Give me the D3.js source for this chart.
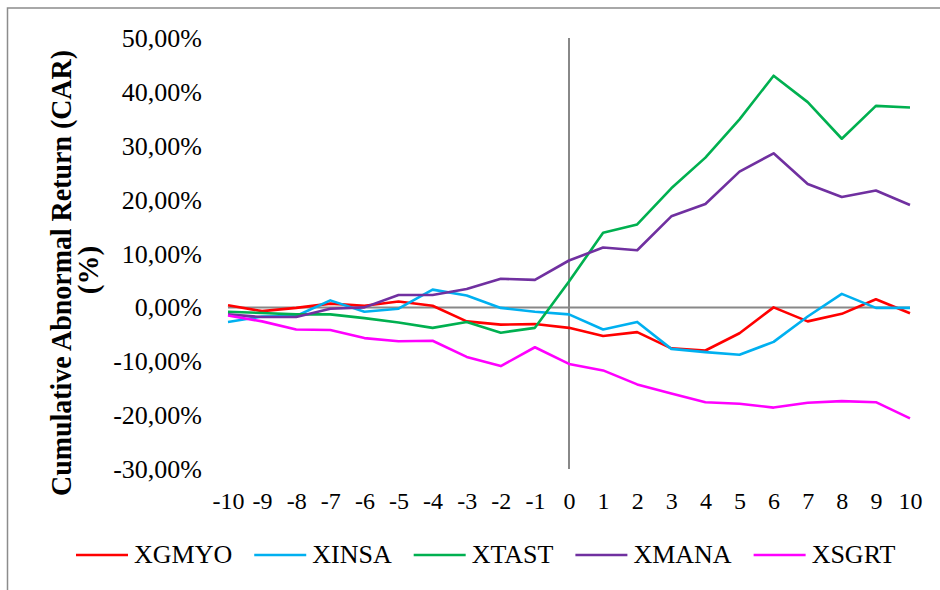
<!DOCTYPE html>
<html>
<head>
<meta charset="utf-8">
<script src="https://cdn.jsdelivr.net/npm/d3@7"></script>
<style>
  body { margin: 0; background: #fff; }
  svg text { font-family: "Liberation Serif", "Times New Roman", serif; }
</style>
</head>
<body>
<div id="chart"></div>
<script>
// event window days and CAR values (%)
const days = [-10, -9, -8, -7, -6, -5, -4, -3, -2, -1, 0, 1, 2, 3, 4, 5, 6, 7, 8, 9, 10];
const yTicks = [-30, -20, -10, 0, 10, 20, 30, 40, 50];
const seriesNames = ["XGMYO", "XINSA", "XTAST", "XMANA", "XSGRT"];
const seriesColors = ["#ff0000", "#00b0f0", "#00b050", "#7030a0", "#ff00ff"];

const xgmyo = [0.4, -0.7, -0.1, 0.7, 0.3, 1.1, 0.3, -2.6, -3.2, -3.1, -3.8, -5.3, -4.6, -7.6, -8.0, -4.8, 0.0, -2.6, -1.2, 1.5, -1.1];
const xinsa = [-2.7, -1.7, -1.6, 1.3, -0.8, -0.25, 3.3, 2.2, -0.1, -0.8, -1.3, -4.1, -2.7, -7.7, -8.3, -8.8, -6.4, -1.7, 2.5, -0.1, -0.1];
const xtast = [-0.8, -1.05, -1.3, -1.3, -2.0, -2.8, -3.8, -2.7, -4.7, -3.8, 4.8, 13.85, 15.4, 22.1, 27.8, 34.9, 43.0, 38.1, 31.3, 37.4, 37.1];
const xmana = [-1.3, -1.8, -1.8, -0.25, 0.0, 2.3, 2.3, 3.4, 5.3, 5.1, 8.7, 11.1, 10.6, 16.9, 19.2, 25.2, 28.6, 22.9, 20.5, 21.7, 19.0];
const xsgrt = [-1.5, -2.6, -4.1, -4.2, -5.7, -6.3, -6.2, -9.2, -10.9, -7.4, -10.5, -11.7, -14.3, -16.0, -17.6, -17.9, -18.6, -17.7, -17.4, -17.6, -20.6];

const seriesValues = [xgmyo, xinsa, xtast, xmana, xsgrt];

const width = 940, height = 590;
const plot = {left: 228, right: 910, top: 38, bottom: 469};
const serif = "'Liberation Serif', 'Times New Roman', serif";

const svg = d3.select("#chart").append("svg")
  .attr("width", width)
  .attr("height", height)
  .style("display", "block");

svg.append("rect")
  .attr("width", width).attr("height", height)
  .attr("fill", "#fff");

// outer chart border (right/bottom edges run off the picture)
svg.append("rect")
  .attr("x", 7.5).attr("y", 8)
  .attr("width", width + 10).attr("height", height + 10)
  .attr("fill", "none")
  .attr("stroke", "#8c8c8c")
  .attr("stroke-width", 1.5);

const x = d3.scaleLinear().domain([-10, 10]).range([plot.left, plot.right]);
const y = d3.scaleLinear().domain([-30, 50]).range([plot.bottom, plot.top]);

// turkish style number format: 50,00% with a plain hyphen for minus
const locale = d3.formatLocale({decimal: ",", thousands: ".", grouping: [3], currency: ["", ""], minus: "-"});
const fmt = locale.format(".2f");

// y axis labels
const yAxis = svg.append("g")
  .attr("transform", `translate(${plot.left},0)`)
  .call(d3.axisLeft(y).tickValues(yTicks).tickSize(0).tickFormat(d => fmt(d) + "%"));
yAxis.attr("font-family", serif);
yAxis.select(".domain").remove();
yAxis.selectAll("text")
  .attr("x", -26)
  .attr("dy", "0.33em")
  .attr("fill", "#000")
  .style("font-size", "26px");

// x axis labels (categories under the plot)
const xAxis = svg.append("g")
  .attr("transform", `translate(0,${plot.bottom})`)
  .call(d3.axisBottom(x).tickValues(days).tickSize(0).tickFormat(d => String(d)));
xAxis.attr("font-family", serif);
xAxis.select(".domain").remove();
xAxis.selectAll("text")
  .attr("y", 40)
  .attr("dy", 0)
  .attr("fill", "#000")
  .style("font-size", "24px");

// axis lines crossing at zero
svg.append("line")
  .attr("x1", x(-10)).attr("x2", x(10))
  .attr("y1", y(0)).attr("y2", y(0))
  .attr("stroke", "#888").attr("stroke-width", 2);
svg.append("line")
  .attr("x1", x(0)).attr("x2", x(0))
  .attr("y1", y(50)).attr("y2", y(-30))
  .attr("stroke", "#888").attr("stroke-width", 2);

// series lines
const line = d3.line()
  .x((d, i) => x(days[i]))
  .y(d => y(d));

svg.selectAll("path.series")
  .data(seriesValues)
  .enter()
  .append("path")
  .attr("class", "series")
  .attr("d", line)
  .attr("fill", "none")
  .attr("stroke", (d, i) => seriesColors[i])
  .attr("stroke-width", 2.6)
  .attr("stroke-linejoin", "round");

// y title, two lines, rotated
svg.append("text")
  .attr("transform", "translate(71,273) rotate(-90)")
  .attr("text-anchor", "middle")
  .attr("font-family", serif)
  .attr("font-weight", "bold")
  .attr("font-size", 29)
  .attr("textLength", 446)
  .attr("lengthAdjust", "spacingAndGlyphs")
  .text("Cumulative Abnormal Return (CAR)");
svg.append("text")
  .attr("transform", "translate(98,270) rotate(-90)")
  .attr("text-anchor", "middle")
  .attr("font-family", serif)
  .attr("font-weight", "bold")
  .attr("font-size", 29)
  .text("(%)");

// legend along the bottom
let lx = 76;
const ly = 555;
seriesNames.forEach((name, i) => {
  svg.append("line")
    .attr("x1", lx).attr("x2", lx + 52)
    .attr("y1", ly).attr("y2", ly)
    .attr("stroke", seriesColors[i])
    .attr("stroke-width", 2.6);
  const t = svg.append("text")
    .attr("x", lx + 58)
    .attr("y", ly + 8)
    .attr("font-family", serif)
    .attr("font-size", 26)
    .text(name);
  lx += 58 + t.node().getComputedTextLength() + 22;
});
</script>
</body>
</html>
